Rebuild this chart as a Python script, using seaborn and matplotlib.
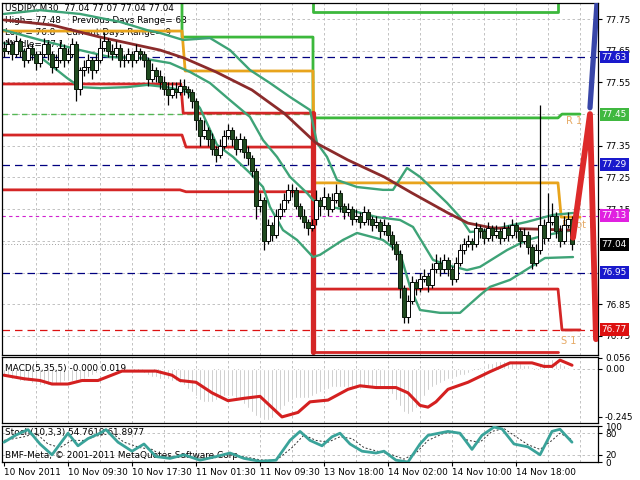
import matplotlib
matplotlib.use("Agg")
import matplotlib.pyplot as plt
import numpy as np
import seaborn as sns

sns.set_style("white")
plt.rcParams['font.family'] = ['DejaVu Sans']

# ---- candles (USDJPY M30), one per bar ----
opens = [77.66,77.65,77.67,77.64,77.68,77.65,77.62,77.66,77.64,77.61,
         77.64,77.67,77.64,77.60,77.62,77.66,77.62,77.64,77.67,77.53,
         77.59,77.60,77.62,77.59,77.62,77.66,77.68,77.65,77.64,77.66,
         77.62,77.62,77.64,77.62,77.65,77.64,77.62,77.56,77.59,77.57,
         77.55,77.53,77.51,77.53,77.52,77.54,77.53,77.52,77.49,77.43,
         77.38,77.40,77.37,77.34,77.32,77.35,77.38,77.40,77.37,77.34,
         77.37,77.33,77.31,77.27,77.16,77.18,77.05,77.10,77.07,77.13,
         77.15,77.18,77.21,77.21,77.16,77.13,77.11,77.09,77.12,77.18,
         77.16,77.19,77.15,77.18,77.20,77.16,77.14,77.15,77.12,77.13,
         77.11,77.14,77.12,77.10,77.11,77.08,77.10,77.07,77.04,77.01,
         76.90,76.81,76.86,76.92,76.90,76.93,76.94,76.91,76.96,76.98,
         76.96,76.99,76.96,76.93,76.98,77.02,77.04,77.05,77.04,77.09,
         77.08,77.06,77.09,77.07,77.08,77.06,77.09,77.07,77.10,77.08,
         77.05,77.07,77.03,76.98,77.02,77.10,77.06,77.11,77.13,77.08,
         77.05,77.10,77.12]
highs = [77.68,77.69,77.68,77.70,77.69,77.66,77.67,77.67,77.65,77.65,
         77.69,77.68,77.65,77.64,77.68,77.67,77.66,77.69,77.68,77.60,
         77.62,77.64,77.63,77.64,77.69,77.71,77.69,77.67,77.68,77.67,
         77.64,77.66,77.65,77.67,77.66,77.65,77.63,77.61,77.60,77.59,
         77.57,77.55,77.55,77.55,77.56,77.56,77.54,77.53,77.50,77.44,
         77.43,77.41,77.39,77.35,77.37,77.40,77.42,77.41,77.38,77.39,
         77.38,77.35,77.32,77.28,77.20,77.19,77.12,77.11,77.15,77.17,
         77.20,77.23,77.23,77.22,77.17,77.15,77.12,77.12,77.21,77.19,
         77.22,77.20,77.20,77.23,77.21,77.17,77.17,77.16,77.15,77.14,
         77.16,77.15,77.13,77.13,77.12,77.12,77.11,77.08,77.05,77.02,
         76.91,76.88,76.94,76.93,76.95,76.96,76.95,76.98,77.01,77.00,
         77.01,77.00,76.97,77.00,77.04,77.06,77.07,77.06,77.11,77.10,
         77.09,77.11,77.10,77.10,77.09,77.11,77.10,77.12,77.11,77.09,
         77.09,77.08,77.04,77.04,77.48,77.12,77.20,77.17,77.14,77.10,
         77.13,77.14,77.13]
lows = [77.63,77.64,77.62,77.63,77.63,77.60,77.61,77.62,77.59,77.60,
        77.63,77.62,77.58,77.59,77.61,77.60,77.61,77.63,77.49,77.51,
        77.57,77.58,77.56,77.58,77.61,77.65,77.63,77.62,77.63,77.60,
        77.60,77.61,77.60,77.61,77.62,77.60,77.54,77.55,77.55,77.53,
        77.51,77.48,77.50,77.50,77.51,77.51,77.50,77.47,77.40,77.35,
        77.37,77.35,77.32,77.30,77.31,77.34,77.37,77.35,77.32,77.33,
        77.31,77.29,77.25,77.12,77.14,77.02,77.04,77.05,77.06,77.12,
        77.14,77.17,77.19,77.15,77.12,77.09,77.07,77.08,77.10,77.13,
        77.15,77.13,77.14,77.17,77.14,77.12,77.13,77.10,77.11,77.09,
        77.10,77.10,77.08,77.09,77.06,77.07,77.05,77.02,76.99,76.87,
        76.79,76.79,76.85,76.88,76.89,76.92,76.89,76.90,76.95,76.94,
        76.95,76.94,76.91,76.92,76.97,77.01,77.03,77.02,77.03,77.06,
        77.04,77.05,77.05,77.06,77.04,77.05,77.05,77.06,77.06,77.03,
        77.04,77.01,76.96,76.97,77.01,77.04,77.05,77.10,77.06,77.03,
        77.04,77.09,77.02]
closes = [77.65,77.67,77.64,77.68,77.65,77.62,77.66,77.64,77.61,77.64,
          77.67,77.64,77.60,77.62,77.66,77.62,77.64,77.67,77.53,77.59,
          77.60,77.62,77.59,77.62,77.66,77.68,77.65,77.64,77.66,77.62,
          77.62,77.64,77.62,77.65,77.64,77.62,77.56,77.59,77.57,77.55,
          77.53,77.51,77.53,77.52,77.54,77.53,77.52,77.49,77.43,77.38,
          77.40,77.37,77.34,77.32,77.35,77.38,77.40,77.37,77.34,77.37,
          77.33,77.31,77.27,77.16,77.18,77.05,77.10,77.07,77.13,77.15,
          77.18,77.21,77.21,77.16,77.13,77.11,77.09,77.10,77.18,77.16,
          77.19,77.15,77.18,77.20,77.16,77.14,77.15,77.12,77.13,77.11,
          77.14,77.12,77.10,77.11,77.08,77.10,77.07,77.04,77.01,76.90,
          76.81,76.86,76.92,76.90,76.93,76.94,76.91,76.96,76.98,76.96,
          76.99,76.96,76.93,76.98,77.02,77.04,77.05,77.04,77.09,77.08,
          77.06,77.09,77.07,77.08,77.06,77.09,77.07,77.10,77.08,77.05,
          77.07,77.03,76.98,77.02,77.10,77.06,77.11,77.13,77.08,77.05,
          77.10,77.12,77.04]

time_labels = ["10 Nov 2011", "10 Nov 09:30", "10 Nov 17:30", "11 Nov 01:30",
               "11 Nov 09:30", "13 Nov 18:00", "14 Nov 02:00", "14 Nov 10:00",
               "14 Nov 18:00"]
label_bars = [0, 16, 32, 48, 64, 80, 96, 112, 128]

# ---- moving average and bands (vertices: bar, price) ----
ma_x = [0, 12, 24, 39, 45, 53, 62, 70, 78, 86, 95, 102, 111, 116, 122, 142]
ma_y = [77.747, 77.731, 77.693, 77.652, 77.627, 77.583, 77.526, 77.453, 77.359,
        77.305, 77.252, 77.201, 77.138, 77.106, 77.091, 77.084]
bb_up_x = [0, 9, 19, 29, 35.75, 39, 44.75, 51.5, 56.5, 61.5, 66.5, 71.5, 76.5, 78.25,
           80.75, 83.25, 88.25, 94.75, 97.25, 100.75, 104, 110.75, 114, 116.5, 121.5,
           130.75, 137.25, 142.25]
bb_up_y = [77.766, 77.778, 77.766, 77.741, 77.715, 77.706, 77.684, 77.690, 77.652, 77.589,
           77.548, 77.504, 77.463, 77.359, 77.315, 77.242, 77.220, 77.211, 77.211, 77.280,
           77.252, 77.170, 77.125, 77.078, 77.084, 77.110, 77.132, 77.138]
bb_mid_x = [0, 9, 19, 26.5, 34, 41.5, 46.5, 51.5, 56.5, 61.5, 64.75, 68.25, 71.5, 75.75,
            77.25, 81.5, 86.5, 93.25, 99, 102.25, 107.25, 110.75, 115.75, 119, 125.75,
            130.75, 135.75, 142.25]
bb_mid_y = [77.715, 77.684, 77.652, 77.630, 77.627, 77.611, 77.583, 77.548, 77.494, 77.441,
            77.368, 77.315, 77.252, 77.201, 77.179, 77.157, 77.147, 77.125, 77.116, 77.094,
            76.990, 76.974, 76.958, 76.968, 77.021, 77.053, 77.069, 77.084]
bb_low_x = [0, 4, 9, 12.25, 15.75, 19, 24, 30.75, 35.75, 40.75, 45.75, 49, 53.25, 57.25,
            61.5, 64.75, 66.5, 69.75, 73.25, 77.25, 79, 84.75, 88.25, 94.75, 99, 101.5,
            104, 109, 114, 119, 121.5, 126.5, 135.25, 142.25]
bb_low_y = [77.674, 77.652, 77.630, 77.599, 77.564, 77.535, 77.532, 77.535, 77.542, 77.535,
            77.520, 77.469, 77.353, 77.315, 77.264, 77.220, 77.157, 77.084, 77.053, 76.999,
            77.006, 77.053, 77.075, 77.053, 77.012, 76.905, 76.832, 76.823, 76.823, 76.879,
            76.905, 76.927, 76.996, 76.999]

# ---- daily pivot level steps (vertices: bar, price) ----
orange_x = [-0.5, 44.5, 45.3, 77.25, 77.6, 138.5, 139.3, 144]
orange_y = [77.712, 77.712, 77.586, 77.586, 77.233, 77.233, 77.125, 77.125]
red_a_x = [-0.5, 44.2, 44.8, 77.25]
red_a_y = [77.545, 77.545, 77.453, 77.453]
red_b_x = [-0.5, 44.5, 45.5, 77.25]
red_b_y = [77.384, 77.384, 77.346, 77.346]
red_c_x = [-0.5, 44.0, 45.5, 77.25]
red_c_y = [77.211, 77.211, 77.205, 77.205]
red_d_x = [77.5, 138.5, 139.5, 144]
red_d_y = [76.898, 76.898, 76.769, 76.769]
red_e_x = [77.25, 138.5]
red_e_y = [76.700, 76.700]
red_gap_x = [77.25, 77.25]
red_gap_y = [77.453, 76.700]
green_a_x = [44.5, 44.5, 77.25, 77.25, 138.5, 139.5, 144]
green_a_y = [77.90, 77.693, 77.693, 77.438, 77.438, 77.45, 77.45]
green_b_x = [77.25, 77.25, 138.5, 138.5]
green_b_y = [77.90, 77.772, 77.772, 77.90]
zig_red_x = [142.25, 146.5, 148.0]
zig_red_y = [77.06, 77.45, 76.74]
zig_blue_x = [146.5, 148.3]
zig_blue_y = [77.47, 77.81]

# ---- horizontal level lines and price boxes ----
navy_levels = [77.63, 77.29, 76.95]
box_levels = [77.63, 77.45, 77.29, 77.13, 77.04, 76.95, 76.77]
box_colors = ['#1a1acc', '#40b840', '#1a1acc', '#e020e0', '#000000', '#1a1acc', '#dd1111']
price_ticks = [77.75, 77.65, 77.55, 77.35, 77.25, 77.15, 76.85, 76.75]
grid_levels = [76.75, 76.85, 76.95, 77.05, 77.15, 77.25, 77.35, 77.45, 77.55, 77.65, 77.75]

# ---- MACD(5,35,5) ----
macd_hist = [-0.04,-0.04,-0.05,-0.05,-0.06,-0.06,-0.06,-0.07,-0.08,-0.08,
             -0.08,-0.08,-0.08,-0.08,-0.07,-0.06,-0.06,-0.06,-0.06,-0.06,
             -0.05,-0.04,-0.03,-0.02,-0.01,-0.01,-0.01,-0.01,-0.01,-0.01,
             -0.01,-0.01,-0.01,-0.01,-0.01,-0.02,-0.03,-0.04,-0.04,-0.05,
             -0.05,-0.05,-0.06,-0.06,-0.07,-0.08,-0.10,-0.12,-0.14,-0.16,
             -0.17,-0.17,-0.17,-0.16,-0.15,-0.14,-0.14,-0.14,-0.15,-0.16,
             -0.18,-0.20,-0.22,-0.24,-0.25,-0.26,-0.26,-0.25,-0.23,-0.21,
             -0.19,-0.17,-0.16,-0.15,-0.15,-0.15,-0.15,-0.14,-0.13,-0.12,
             -0.11,-0.10,-0.09,-0.09,-0.09,-0.09,-0.09,-0.09,-0.10,-0.10,
             -0.09,-0.09,-0.09,-0.09,-0.09,-0.10,-0.11,-0.13,-0.16,-0.19,
             -0.22,-0.23,-0.22,-0.20,-0.17,-0.14,-0.11,-0.09,-0.08,-0.07,
             -0.06,-0.05,-0.05,-0.04,-0.03,-0.03,-0.02,-0.01,0.00,0.01,
             0.02,0.03,0.03,0.04,0.04,0.04,0.04,0.03,0.03,0.03,
             0.02,0.02,0.01,0.01,0.03,0.04,0.05,0.05,0.04,0.03,
             0.02,0.01,0.00]
macd_sig_x = [0, 5, 9, 12, 16, 19.5, 23.5, 29.5, 38, 42, 44, 48, 52, 56, 60, 64, 69.5,
              73.5, 76.5, 81, 86, 89, 93, 98, 101, 104, 106, 108, 111, 116, 121.5, 126.5,
              132, 135, 137, 139, 142]
macd_sig_y = [-0.032, -0.050, -0.059, -0.077, -0.077, -0.059, -0.059, -0.011, -0.011,
              -0.032, -0.059, -0.068, -0.122, -0.162, -0.150, -0.140, -0.245, -0.222,
              -0.168, -0.159, -0.104, -0.086, -0.095, -0.095, -0.122, -0.186, -0.195,
              -0.168, -0.104, -0.068, -0.014, 0.031, 0.031, 0.013, 0.013, 0.045, 0.019]

# ---- Stochastic(10,3,3) ----
st_x = [0, 3, 6, 9, 12, 16, 18.5, 21, 24, 25.5, 28.5, 32, 35, 38, 41.5, 45, 49, 53,
        56.5, 60, 64, 68, 71.5, 74, 76.5, 79.5, 82, 84, 86.5, 89.5, 93, 95, 98, 101,
        104, 106, 111, 114, 117, 119.5, 122.5, 124.5, 127.5, 131, 134, 137, 139, 142]
st_y = [55, 75, 90, 50, 20, 80, 45, 65, 80, 90, 55, 30, 50, 15, 10, 20, 5, 15, 25, 10,
        2, 5, 60, 85, 60, 45, 70, 80, 50, 30, 25, 30, 5, 0, 50, 74, 85, 80, 35, 74,
        97, 92, 50, 42, 20, 85, 91, 55]
sig_x = [0, 5, 8, 11, 14, 17, 20, 23, 27, 30, 34, 37, 40, 44, 48, 52, 56, 60, 64, 68,
         72, 75, 78, 81, 84, 87, 90, 94, 97, 100, 103, 106, 110, 113, 116, 119, 122,
         125, 128, 131, 134, 137, 139, 142]
sig_y = [60, 70, 80, 50, 40, 60, 60, 72, 80, 55, 40, 35, 15, 15, 12, 10, 20, 15, 6, 4,
         40, 75, 60, 55, 70, 65, 40, 28, 20, 8, 25, 60, 80, 82, 60, 55, 85, 93, 70, 48,
         35, 60, 80, 62]

TEAL = '#3ea377'
MAROON = '#8b2b2b'
RED = '#d42626'
ORANGE = '#e8a41c'
GREEN = '#3cb83c'
GRID = '#b8b8b8'
FS = 6.4


def line(a, xs, ys, color, lw, z=2):
    sns.lineplot(x=xs, y=ys, ax=a, color=color, lw=lw, estimator=None,
                 sort=False, zorder=z, legend=False)


fig = plt.figure(figsize=(6.4, 4.8), dpi=100)
fig.patch.set_facecolor('white')


def panel(top, bottom):
    a = fig.add_axes([2 / 640, 1 - bottom / 480, 596 / 640, (bottom - top) / 480])
    a.set_xlim(-0.5, 148.5)
    a.set_facecolor('white')
    for s in a.spines.values():
        s.set_color('black')
        s.set_linewidth(0.9)
    for b in range(8, 148, 8):
        a.axvline(b, color=GRID, lw=0.6, ls=(0, (3, 3)), zorder=0)
    a.yaxis.tick_right()
    a.tick_params(axis='y', labelsize=FS, length=3, pad=2, colors='black')
    a.tick_params(axis='x', bottom=False, labelbottom=False)
    return a


ax = panel(3, 355)
ax_m = panel(357, 423)
ax_s = panel(426, 462)

# ---- main price panel ----
ax.set_ylim(76.69, 77.8005)
ax.set_yticks(price_ticks)
ax.set_yticklabels([f"{v:.2f}" for v in price_ticks])
for v in grid_levels:
    ax.axhline(v, color=GRID, lw=0.6, ls=(0, (3, 3)), zorder=0)

for v in navy_levels:
    ax.axhline(v, color='#000080', lw=0.9, ls=(0, (6, 4)), zorder=1)
ax.axhline(77.13, color='#d020d0', lw=0.8, ls=(0, (3, 3)), zorder=1)
ax.axhline(76.77, color='#dd1111', lw=0.9, ls=(0, (6, 4)), zorder=1)
ax.axhline(77.04, color='#a0a0a0', lw=0.7, ls=(0, (1, 2)), zorder=1)
ax.plot([-0.5, 77.25], [77.45, 77.45], color='#55b855', lw=1.0, ls=(0, (4, 3)), zorder=1)

line(ax, red_a_x, red_a_y, RED, 2.0)
line(ax, red_b_x, red_b_y, RED, 2.0)
line(ax, red_c_x, red_c_y, RED, 2.0)
line(ax, red_d_x, red_d_y, RED, 2.0)
line(ax, red_e_x, red_e_y, RED, 2.0)
line(ax, green_a_x, green_a_y, GREEN, 2.0)
line(ax, green_b_x, green_b_y, GREEN, 2.0)
line(ax, orange_x, orange_y, ORANGE, 2.0)
line(ax, red_gap_x, red_gap_y, RED, 3.8)
line(ax, bb_up_x, bb_up_y, TEAL, 1.7)
line(ax, bb_mid_x, bb_mid_y, TEAL, 1.7)
line(ax, bb_low_x, bb_low_y, TEAL, 1.7)
line(ax, ma_x, ma_y, MAROON, 2.0)

idx = np.arange(len(closes))
o = np.array(opens)
c = np.array(closes)
ax.vlines(idx, lows, highs, color='black', lw=0.9, zorder=3)
bull = c >= o
ax.bar(idx[bull], (c - o)[bull], bottom=o[bull], width=0.8, color='white',
       edgecolor='black', lw=0.7, zorder=4)
ax.bar(idx[~bull], (o - c)[~bull], bottom=c[~bull], width=0.8, color='#1f4a1f',
       edgecolor='#0d1f0d', lw=0.7, zorder=4)

line(ax, zig_red_x, zig_red_y, '#dd2a2a', 4.2, z=5)
line(ax, zig_blue_x, zig_blue_y, '#3846a8', 3.8, z=5)

ax.text(140.6, 77.427, "R 1", color='#e6aa66', fontsize=7, va='center', zorder=2)
ax.text(139.6, 77.10, "Pivot P", color='#e6aa66', fontsize=7, va='center', zorder=2)
ax.text(139.3, 76.735, "S 1", color='#e6aa66', fontsize=7, va='center', zorder=2)

for v, col in zip(box_levels, box_colors):
    ax.text(1.006, v, f"{v:.2f}", transform=ax.get_yaxis_transform(), color='white',
            fontsize=FS, va='center', ha='left', zorder=10, clip_on=False,
            bbox=dict(boxstyle='square,pad=0.22', fc=col, ec='none'))


def ptxt(a, px, frac_y, s):
    a.text((px - 2) / 596, frac_y, s, transform=a.transAxes, fontsize=FS,
           va='center', ha='left', color='black', zorder=1)


ptxt(ax, 5, (355 - 8) / 352, "USDJPY,M30  77.04 77.07 77.04 77.04")
ptxt(ax, 5, (355 - 20) / 352, "High= 77.48")
ptxt(ax, 72, (355 - 20) / 352, "Previous Days Range= 68")
ptxt(ax, 5, (355 - 32) / 352, "Low = 76.8")
ptxt(ax, 66, (355 - 32) / 352, "Current Days Range= 9")
ptxt(ax, 5, (355 - 44) / 352, "Middle= 77.1")

# ---- MACD panel ----
ax_m.set_ylim(-0.276, 0.061)
ax_m.axhline(0, color=GRID, lw=0.6, ls=(0, (3, 3)), zorder=0)
ax_m.bar(idx, macd_hist, width=0.55, color='#b4b4b4', zorder=1)
line(ax_m, macd_sig_x, macd_sig_y, '#d42020', 2.2)
ax_m.set_yticks([0.056, 0.0, -0.245])
ax_m.set_yticklabels(["0.056", "0.00", "-0.245"])
ptxt(ax_m, 5, (423 - 368) / 66, "MACD(5,35,5) -0.000 0.019")

# ---- Stochastic panel ----
ax_s.set_ylim(0, 100)
for v in (20, 80):
    ax_s.axhline(v, color=GRID, lw=0.6, ls=(0, (3, 3)), zorder=0)
line(ax_s, sig_x, sig_y, '#303030', 0.7)
ax_s.lines[-1].set_linestyle((0, (2, 2)))
line(ax_s, st_x, st_y, '#3aa39a', 2.0, z=3)
ax_s.set_yticks([100, 80, 20, 0])
ax_s.set_yticklabels(["100", "80", "20", "0"])
ptxt(ax_s, 5, (462 - 433) / 36, "Stoch(10,3,3) 54.7619 61.8977")
ptxt(ax_s, 5, (462 - 455) / 36, "BMF-Meta, \u00a9 2001-2011 MetaQuotes Software Corp.")

ax_s.set_xticks(label_bars)
ax_s.set_xticklabels(time_labels, ha='left')
ax_s.tick_params(axis='x', bottom=True, labelbottom=True, length=3, pad=1.5,
                 labelsize=FS, colors='black')

for a in (ax, ax_m, ax_s):
    a.set_xlabel("")
    a.set_ylabel("")

fig.savefig("out.png", dpi=100, facecolor='white')
